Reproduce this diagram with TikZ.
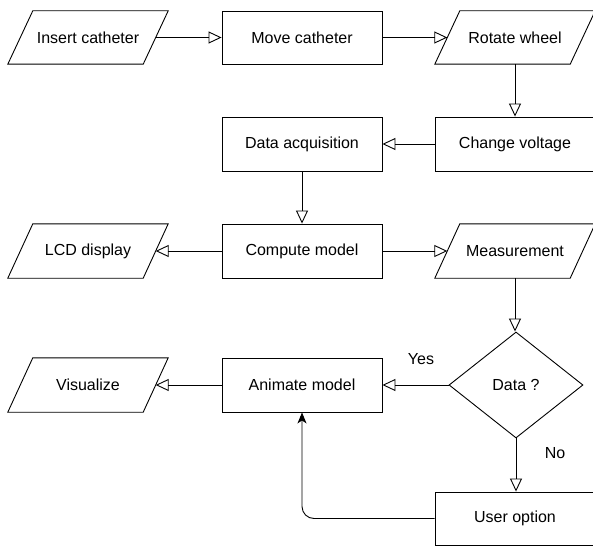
\documentclass[tikz,border=0pt]{standalone}
\usepackage{fontspec}
\setmainfont{Liberation Sans}
\usetikzlibrary{arrows.meta,shapes.geometric}
\begin{document}
\begin{tikzpicture}[x=1pt,y=-1pt,
  every node/.style={font=\fontsize{16}{19}\selectfont, text=black},
  box/.style={draw, line width=0.9pt, minimum width=160pt, minimum height=53pt, inner sep=0pt},
  para/.style={minimum width=135pt, minimum height=53pt, inner sep=0pt},
  paraline/.style={line width=0.9pt},
  decision/.style={draw, diamond, line width=0.9pt, minimum width=134pt, minimum height=106pt, aspect=1.264, inner sep=0pt},
  flow/.style={line width=0.9pt, -{Triangle[open, length=13pt, width=12pt]}},
  back/.style={line width=0.9pt, rounded corners=12pt, -{Stealth[length=11pt, width=9pt, inset=3pt]}},
  lbl/.style={inner sep=0pt}
]
\clip (0,0) rectangle (593,545);
\useasboundingbox (0,0) rectangle (593,545);

\node[para] (ins) at (88,37.5) {Insert catheter};
\node[box] (move) at (302,37.5) {Move catheter};
\node[para] (rot) at (515,37.5) {Rotate wheel};
\node[box, minimum height=54pt] (chv) at (515,144) {Change voltage};
\node[box, minimum height=54pt] (daq) at (302,144) {Data acquisition};
\node[box, minimum height=54pt] (cmp) at (302,251) {Compute model};
\node[para, minimum height=54pt] (lcd) at (88,251) {LCD display};
\node[para, minimum height=54pt] (meas) at (515,251) {Measurement};
\node[decision] (dec) at (516,385) {Data ?};
\node[box, minimum height=54pt] (anim) at (302,385) {Animate model};
\node[para, minimum height=54pt] (vis) at (88,385) {Visualize};
\node[box] (usr) at (515,518.5) {User option};

\foreach \n in {ins,rot,lcd,meas,vis}
  \draw[paraline] ([xshift=-12.5pt]\n.south west) -- ([xshift=-12.5pt]\n.south east)
    -- ([xshift=12.5pt]\n.north east) -- ([xshift=12.5pt]\n.north west) -- cycle;

\node[lbl] (yes) at (421,359) {Yes};
\node[lbl] (no) at (555,453) {No};

\draw[flow] (ins.east) -- (move.west);
\draw[flow] (move.east) -- (rot.west);
\draw[flow] (rot.south) -- (chv.north);
\draw[flow] (chv.west) -- (daq.east);
\draw[flow] (daq.south) -- (cmp.north);
\draw[flow] (cmp.west) -- (lcd.east);
\draw[flow] (cmp.east) -- (meas.west);
\draw[flow] (meas.south) -- (meas.south |- dec.north);
\draw[flow] (dec.west) -- (anim.east);
\draw[flow] (dec.south) -- (dec.south |- usr.north);
\draw[flow] (anim.west) -- (vis.east);
\draw[back] (usr.west) -| (anim.south);
\end{tikzpicture}
\end{document}
